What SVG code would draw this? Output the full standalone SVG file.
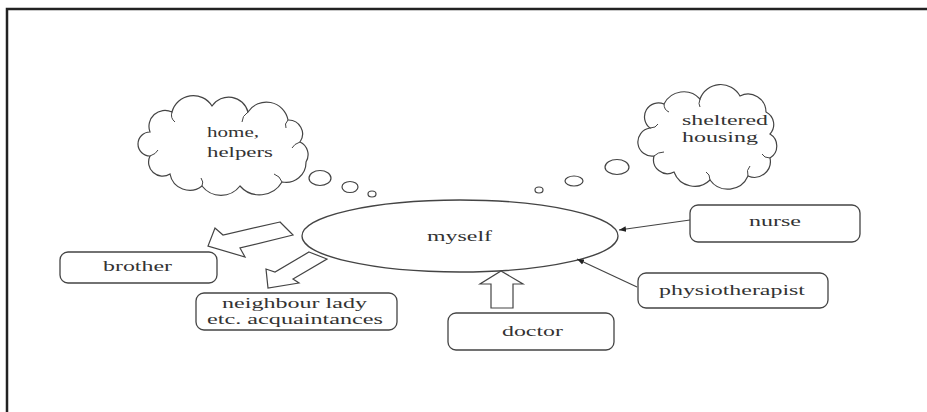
<svg xmlns="http://www.w3.org/2000/svg" width="927" height="412" viewBox="0 0 927 412">
<style>
.frame{fill:none;stroke:#222;stroke-width:2.5}
.box{fill:#fff;stroke:#444;stroke-width:1.3}
.line{fill:none;stroke:#444;stroke-width:1.2}
.blk{fill:#fff;stroke:#444;stroke-width:1.2;stroke-linejoin:miter}
.curl{fill:none;stroke:#444;stroke-width:1}
.t{font-family:'Liberation Serif','DejaVu Serif',serif;font-size:15px;fill:#333}
</style>
<defs>
<marker id="ah" viewBox="0 0 10 10" refX="10" refY="5" markerWidth="7" markerHeight="7" orient="auto" markerUnits="userSpaceOnUse">
<path d="M0,1 L10,5 L0,9 z" fill="#222"/>
</marker>
</defs>
<rect width="927" height="412" fill="#fff"/>
<path class="frame" d="M7,412 V9 H927"/>

<g id="cloud-home">
<path class="blk" d="M150,132 A16,16 0 0 1 172,112 A22,22 0 0 1 212,106 A20,20 0 0 1 248,112 A22,22 0 0 1 288,120 A14,14 0 0 1 300,142 A14,14 0 0 1 306,162 A20,20 0 0 1 282,182 A26,26 0 0 1 240,186 A24,24 0 0 1 202,186 A20,20 0 0 1 170,174 A14,14 0 0 1 150,156 A12,12 0 0 1 150,132 Z"/>
<path class="curl" d="M172,112 q-2,6 3,10 M248,112 q-6,4 -6,10 M288,120 q-4,4 -2,8 M300,142 q-6,2 -8,6 M282,182 q-2,-6 -8,-8 M202,186 q2,-4 -1,-8 M150,156 q6,-2 8,-6"/>
<text class="t" font-family="'Liberation Serif','DejaVu Serif',serif" x="207" y="137" textLength="52" lengthAdjust="spacingAndGlyphs">home,</text>
<text class="t" font-family="'Liberation Serif','DejaVu Serif',serif" x="207" y="157" textLength="66" lengthAdjust="spacingAndGlyphs">helpers</text>
<ellipse class="line" cx="320" cy="178" rx="11" ry="7.5"/>
<ellipse class="line" cx="350" cy="187" rx="8" ry="5.5"/>
<ellipse class="line" cx="372" cy="194" rx="4" ry="3"/>
</g>

<g id="cloud-sheltered">
<path class="blk" d="M650,128 A14,14 0 0 1 664,104 A22,22 0 0 1 700,99 A22,22 0 0 1 740,96 A18,18 0 0 1 766,112 A14,14 0 0 1 770,134 A14,14 0 0 1 770,158 A16,16 0 0 1 748,176 A22,22 0 0 1 710,180 A22,22 0 0 1 674,172 A14,14 0 0 1 654,156 A12,12 0 0 1 650,128 Z"/>
<path class="curl" d="M664,104 q0,6 5,8 M700,99 q-2,5 0,8 M650,128 q6,0 8,-4 M654,156 q4,-4 10,-4 M710,180 q0,-6 -4,-8 M748,176 q-2,-6 2,-10 M770,158 q-6,0 -8,-4"/>
<text class="t" font-family="'Liberation Serif','DejaVu Serif',serif" x="682" y="125" textLength="86" lengthAdjust="spacingAndGlyphs">sheltered</text>
<text class="t" font-family="'Liberation Serif','DejaVu Serif',serif" x="682" y="142" textLength="76" lengthAdjust="spacingAndGlyphs">housing</text>
<ellipse class="line" cx="617" cy="167" rx="12" ry="7.5"/>
<ellipse class="line" cx="574" cy="181" rx="9" ry="5"/>
<ellipse class="line" cx="539" cy="190" rx="4" ry="3"/>
</g>

<g id="myself">
<ellipse class="box" cx="460" cy="236" rx="158" ry="36"/>
<text class="t" font-family="'Liberation Serif','DejaVu Serif',serif" x="427" y="241" textLength="65" lengthAdjust="spacingAndGlyphs">myself</text>
</g>

<g id="nurse">
<rect class="box" x="690" y="205" width="170" height="37" rx="8"/>
<text class="t" font-family="'Liberation Serif','DejaVu Serif',serif" x="749" y="226" textLength="52" lengthAdjust="spacingAndGlyphs">nurse</text>
</g>

<g id="physiotherapist">
<rect class="box" x="638" y="273" width="190" height="35" rx="8"/>
<text class="t" font-family="'Liberation Serif','DejaVu Serif',serif" x="659" y="295" textLength="146" lengthAdjust="spacingAndGlyphs">physiotherapist</text>
</g>

<g id="brother">
<rect class="box" x="60" y="252" width="157" height="31" rx="8"/>
<text class="t" font-family="'Liberation Serif','DejaVu Serif',serif" x="103" y="271" textLength="69" lengthAdjust="spacingAndGlyphs">brother</text>
</g>

<g id="neighbour">
<rect class="box" x="196" y="293" width="201" height="37" rx="8"/>
<text class="t" font-family="'Liberation Serif','DejaVu Serif',serif" x="222" y="308" textLength="145" lengthAdjust="spacingAndGlyphs">neighbour lady</text>
<text class="t" font-family="'Liberation Serif','DejaVu Serif',serif" x="207" y="324" textLength="176" lengthAdjust="spacingAndGlyphs">etc. acquaintances</text>
</g>

<g id="doctor">
<rect class="box" x="448" y="313" width="166" height="37" rx="8"/>
<text class="t" font-family="'Liberation Serif','DejaVu Serif',serif" x="502" y="336" textLength="61" lengthAdjust="spacingAndGlyphs">doctor</text>
</g>

<g id="connectors">
<polygon class="blk" points="280,222 223,235 215,228 208,246 245,257 240,248 293,235"/>
<polygon class="blk" points="309,252 327,259 293,279 299,283 268,288 266,269 275,272"/>
<polygon class="blk" points="501,271 523,284 513,284 513,308 491,308 491,284 480,284"/>
<line class="line" x1="690" y1="220" x2="619" y2="230" marker-end="url(#ah)"/>
<line class="line" x1="637" y1="287" x2="577" y2="259" marker-end="url(#ah)"/>
</g>
</svg>
